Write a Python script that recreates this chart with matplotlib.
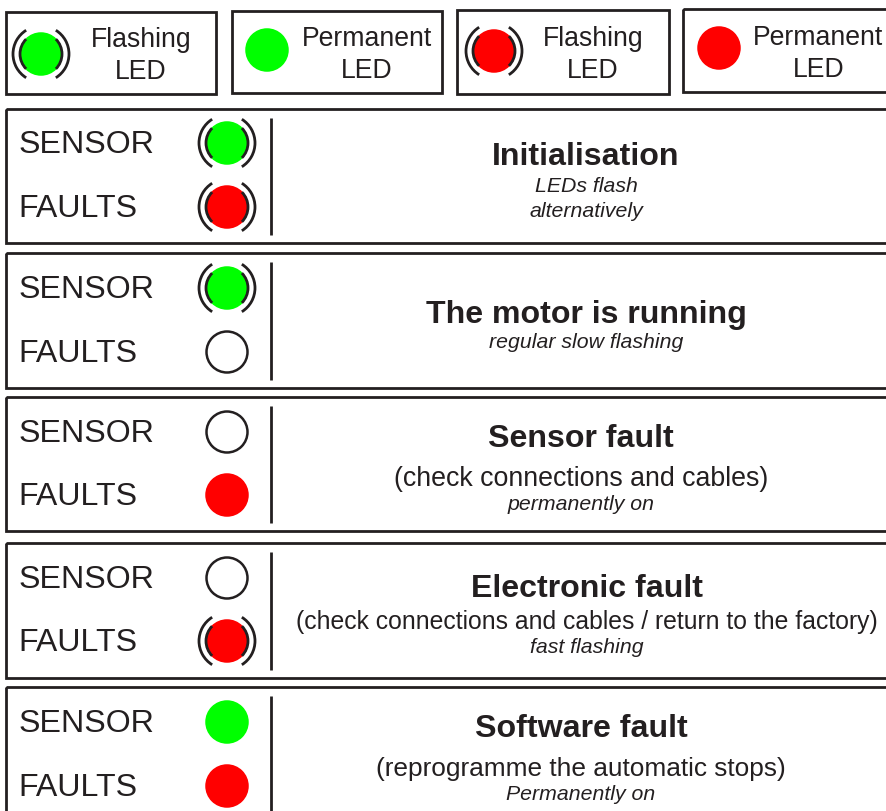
#-------------------------------------------------------------------------------------------------------------------
# LED status table: sensor and fault indications
#-------------------------------------------------------------------------------------------------------------------

import matplotlib
matplotlib.use('Agg')
import matplotlib.pyplot as plt
from matplotlib.patches import Arc, Circle, Rectangle

plt.rcParams['font.family'] = ['Liberation Sans', 'DejaVu Sans']

#==================================================================================================================#
# DATA
#==================================================================================================================#

row_labels = ['SENSOR', 'FAULTS']

legend_top = ['Flashing', 'Permanent', 'Flashing', 'Permanent']
legend_bottom = ['LED', 'LED', 'LED', 'LED']
legend_colors = ['green', 'green', 'red', 'red']
legend_flash = [True, False, True, False]

titles = ['Initialisation', 'The motor is running', 'Sensor fault', 'Electronic fault', 'Software fault']
details = ['', '', '(check connections and cables)', '(check connections and cables / return to the factory)',
           '(reprogramme the automatic stops)']
notes = ['LEDs flash\nalternatively', 'regular slow flashing', 'permanently on', 'fast flashing', 'Permanently on']

sensor_color = ['green', 'green', 'off', 'off', 'green']
sensor_flash = [True, True, False, False, False]
faults_color = ['red', 'off', 'red', 'red', 'red']
faults_flash = [True, False, False, True, False]

#==================================================================================================================#
# LAYOUT (pixels)
#==================================================================================================================#

ink = '#231f20'
led_fill = {'green': '#00ff00', 'red': '#ff0000', 'off': 'white'}
lw = 2.0

legend_boxes = [(6, 12, 210, 82), (232, 11, 210, 82), (457, 10, 212, 84), (683, 9, 230, 83)]
legend_leds = [(41, 54), (267, 50), (494, 51), (719, 48)]
legend_text_x = [141, 367, 593, 818.5]
legend_text_y = [(39, 71), (38, 70), (38, 70), (37, 69)]

panel_top = [109, 253, 397, 543, 687]
panel_bottom = [243, 388, 531, 678, 840]
sensor_y = [143, 288, 432, 578, 722]
faults_y = [207, 352, 495, 641, 786]
title_x = [586, 586, 581, 587, 581]
title_y = [156, 314, 438, 588, 728]
detail_y = [0, 0, 478, 621, 768]
detail_size = [0, 0, 19.3, 17.85, 18.9]
note_x = [586, 586, 581, 587, 581]
note_y = [198, 342, 504, 647, 794]

#==================================================================================================================#
# CREATE THE PLOT
#==================================================================================================================#

fig = plt.figure(figsize=(8.87, 8.12), dpi=100)
ax = fig.add_axes([0, 0, 1, 1])
ax.set_xlim(0, 887)
ax.set_ylim(811, -1)
ax.axis('off')


def draw_led(x, y, color, flash):
    edge = ink if color == 'off' else led_fill[color]
    ax.add_patch(Circle((x, y), 20.5, facecolor=led_fill[color], edgecolor=edge, linewidth=lw * 0.9, zorder=3))
    if not flash:
        return
    # two pairs of brackets around the LED
    for radius, half in ((21, 45), (28, 58)):
        for mid in (0, 180):
            ax.add_patch(Arc((x, y), 2 * radius, 2 * radius, theta1=mid - half, theta2=mid + half,
                             color=ink, linewidth=lw, zorder=4))


# legend boxes
for i in range(len(legend_top)):
    x0, y0, w, h = legend_boxes[i]
    ax.add_patch(Rectangle((x0, y0), w, h, fill=False, edgecolor=ink, linewidth=lw))
    draw_led(legend_leds[i][0], legend_leds[i][1], legend_colors[i], legend_flash[i])
    ax.text(legend_text_x[i], legend_text_y[i][0], legend_top[i], fontsize=19.2, color=ink, ha='center', va='center')
    ax.text(legend_text_x[i], legend_text_y[i][1], legend_bottom[i], fontsize=19.2, color=ink, ha='center', va='center')

# status panels
for i in range(len(titles)):
    top, bottom = panel_top[i], panel_bottom[i]
    ax.add_patch(Rectangle((6, top), 920, bottom - top, fill=False, edgecolor=ink, linewidth=lw))
    ax.plot([271, 271], [top + 9, min(bottom - 8, 812)], color=ink, linewidth=lw, solid_capstyle='butt')

    ax.text(18.5, sensor_y[i] + 1, row_labels[0], fontsize=23.1, color=ink, ha='left', va='center')
    ax.text(18.5, faults_y[i] + 1, row_labels[1], fontsize=23.1, color=ink, ha='left', va='center')
    draw_led(227, sensor_y[i], sensor_color[i], sensor_flash[i])
    draw_led(227, faults_y[i], faults_color[i], faults_flash[i])

    ax.text(title_x[i], title_y[i], titles[i], fontsize=23.1, fontweight='bold', color=ink, ha='center', va='center')
    if details[i]:
        ax.text(title_x[i], detail_y[i], details[i], fontsize=detail_size[i], color=ink, ha='center', va='center')
    ax.text(note_x[i], note_y[i], notes[i], fontsize=15.3, style='italic', color=ink, ha='center', va='center',
            linespacing=1.45)

plt.savefig('out.png', dpi=100)
